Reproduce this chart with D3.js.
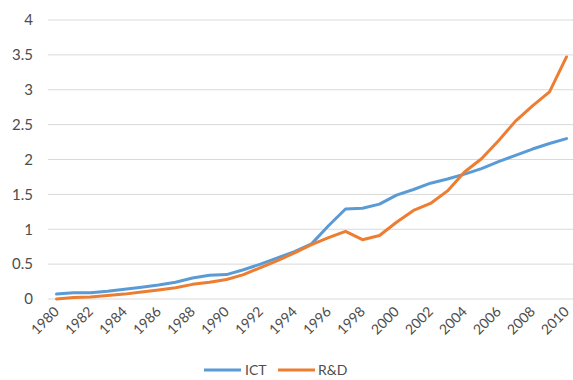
<!DOCTYPE html>
<html>
<head>
<meta charset="utf-8">
<script src="https://cdn.jsdelivr.net/npm/d3@7"></script>
<style>
  html, body { margin: 0; padding: 0; background: #fff; }
  svg { display: block; font-family: Lato, "Open Sans", sans-serif; }
</style>
</head>
<body>
<svg id="chart" width="573" height="380"></svg>
<script>
// Annual index values, 1980–2010
const years = d3.range(1980, 2011);
const ictValues = [0.07, 0.09, 0.09, 0.11, 0.14, 0.17, 0.20, 0.24, 0.30, 0.34,
                   0.35, 0.42, 0.50, 0.59, 0.68, 0.79, 1.05, 1.29, 1.30, 1.36,
                   1.49, 1.57, 1.66, 1.72, 1.79, 1.87, 1.97, 2.06, 2.15, 2.23, 2.30];
const rdValues  = [0.00, 0.02, 0.03, 0.05, 0.07, 0.10, 0.13, 0.16, 0.21, 0.24,
                   0.28, 0.35, 0.45, 0.55, 0.66, 0.78, 0.88, 0.97, 0.85, 0.91,
                   1.10, 1.27, 1.37, 1.55, 1.82, 2.01, 2.27, 2.55, 2.77, 2.97, 3.47];
const yTicks = [0, 0.5, 1, 1.5, 2, 2.5, 3, 3.5, 4];
const xTickYears = d3.range(1980, 2011, 2);
const seriesNames = ["ICT", "R&D"];
const seriesColors = ["#5B9BD5", "#ED7D31"];

const series = [
  { name: seriesNames[0], color: seriesColors[0], values: ictValues },
  { name: seriesNames[1], color: seriesColors[1], values: rdValues }
];

const svg = d3.select("#chart");
const plot = { left: 48, right: 575, top: 20, bottom: 299 };

const x = d3.scaleBand().domain(years).range([plot.left, plot.right]);
const y = d3.scaleLinear().domain([0, 4]).range([plot.bottom, plot.top]);
const cx = d => x(d) + x.bandwidth() / 2;

// Horizontal gridlines
svg.append("g")
  .selectAll("line")
  .data(yTicks)
  .join("line")
  .attr("x1", plot.left).attr("x2", plot.right)
  .attr("y1", d => y(d)).attr("y2", d => y(d))
  .attr("stroke", "#d9d9d9").attr("stroke-width", 1);

// Y axis labels
const yAxis = d3.axisLeft(y).tickValues(yTicks).tickSize(0).tickPadding(0)
  .tickFormat(d3.format("~g"));
svg.append("g")
  .attr("transform", `translate(33,0)`)
  .call(yAxis)
  .call(g => g.select(".domain").remove())
  .call(g => g.selectAll("text")
    .attr("font-size", 15).attr("fill", "#4d4d4d")
    .attr("font-family", "Lato, 'Open Sans', sans-serif"));

// X axis labels, rotated
const xAxis = d3.axisBottom(x).tickValues(xTickYears).tickSize(0).tickPadding(0);
svg.append("g")
  .attr("transform", `translate(0,${plot.bottom})`)
  .call(xAxis)
  .call(g => g.select(".domain").remove())
  .call(g => g.selectAll("text")
    .attr("font-size", 14).attr("fill", "#4d4d4d")
    .attr("font-family", "Lato, 'Open Sans', sans-serif")
    .attr("text-anchor", "end")
    .attr("dy", "0.35em")
    .attr("transform", "translate(0,10) rotate(-45)"));

// Series lines
const line = d3.line()
  .x((v, i) => cx(years[i]))
  .y(v => y(v));

svg.append("g")
  .selectAll("path")
  .data(series)
  .join("path")
  .attr("d", d => line(d.values))
  .attr("fill", "none")
  .attr("stroke", d => d.color)
  .attr("stroke-width", 3)
  .attr("stroke-linejoin", "round")
  .attr("stroke-linecap", "round");

// Legend
const legendY = 370;
const legend = svg.append("g");
const legendItems = [
  { x: 204, textX: 245 },
  { x: 278, textX: 318 }
];
series.forEach((s, i) => {
  const it = legendItems[i];
  legend.append("line")
    .attr("x1", it.x).attr("x2", it.x + 37)
    .attr("y1", legendY).attr("y2", legendY)
    .attr("stroke", s.color).attr("stroke-width", 3);
  legend.append("text")
    .attr("x", it.textX).attr("y", legendY)
    .attr("dy", "0.35em")
    .attr("font-size", 14).attr("fill", "#4d4d4d")
    .text(s.name);
});
</script>
</body>
</html>
